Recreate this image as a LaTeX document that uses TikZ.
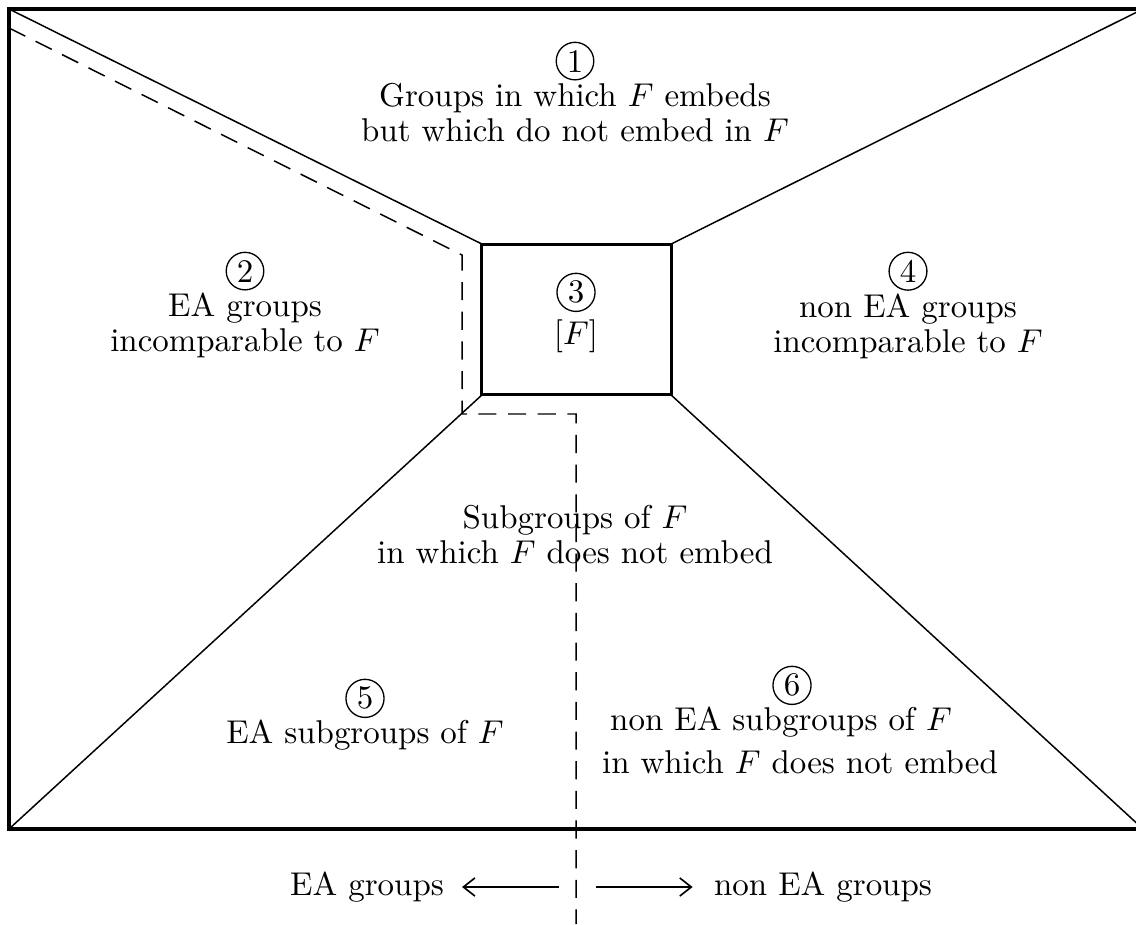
\documentclass[tikz,border=0pt]{standalone}
\usepackage{amsmath, amssymb}
\usepackage{tikz}
\usetikzlibrary{arrows.meta, positioning}

\newcommand{\cnum}[1]{\tikz[baseline=(n.base)]\node[circle,draw,thin,inner sep=1.1pt] (n) {#1};}

\tikzset{
  region/.style={align=center, inner sep=0pt, font=\fontsize{10pt}{10.6pt}\selectfont},
  diag/.style={line width=0.45pt},
  split/.style={line width=0.45pt, dash pattern=on 5.5pt off 3.5pt},
  side/.style={-{Straight Barb[length=3.5pt, width=5.5pt, line width=0.5pt]}, line width=0.9pt},
}

\begin{document}
\begin{tikzpicture}[x=0.3035pt, y=-0.3035pt]
    \useasboundingbox (0,0) rectangle (1136,924);

    % Outer frame
    \coordinate (tl) at (9,9);
    \coordinate (tr) at (1143,9);
    \coordinate (bl) at (9,829);
    \coordinate (br) at (1143,829);
    \draw[line width=1.2pt] (tl) rectangle (br);

    % The class [F]
    \node[draw, line width=0.9pt, outer sep=0pt, minimum width=57.4pt, minimum height=45.8pt] (F) at (576.5,319.5) {};

    % Corner lines
    \draw[diag] (tl) -- (F.north west);
    \draw[diag] (tr) -- (F.north east);
    \draw[diag] (bl) -- (F.south west);
    \draw[diag] (br) -- (F.south east);

    % EA / non EA border (dashed)
    \coordinate (d0) at (9,28);
    \coordinate (d1) at (462,255);
    \coordinate (d2) at (462,414);
    \coordinate (d3) at (576,414);
    \coordinate (d4) at (576,924);
    \draw[split] (d0) -- (d1) -- (d2) -- (d3) -- (d4);

    % Regions
    \node[region, anchor=north] (one) at (575,41) {\cnum{1}\\Groups in which $F$ embeds\\but which do not embed in $F$};
    \node[region, anchor=north] (two) at (245,251) {\cnum{2}\\EA groups\\incomparable to $F$};
    \node[region, anchor=north] (three) at (576,272) {\cnum{3}\\[2pt]$[F]$};
    \node[region, anchor=north] (four) at (908,251) {\cnum{4}\\non EA groups\\incomparable to $F$};
    \node[region] (mid) at (575,535) {Subgroups of $F$\\in which $F$ does not embed};
    \node[region, anchor=north] (five) at (365,678) {\cnum{5}\\EA subgroups of $F$};
    \node[region, anchor=north] (six) at (792,665) {\cnum{6}};
    \node[region] (sixa) at (781,722) {non EA subgroups of $F$};
    \node[region] (sixb) at (800,762) {in which $F$ does not embed};

    % Legend
    \node (ea) at (367,887) {EA groups};
    \node (nonea) at (823,887) {non EA groups};
    \coordinate (la) at (559,887);
    \coordinate (ra) at (596,887);
    \draw[side, shorten >=2pt] (la) -- (ea.east |- la);
    \draw[side, shorten >=3pt] (ra) -- (nonea.west |- ra);
\end{tikzpicture}
\end{document}
